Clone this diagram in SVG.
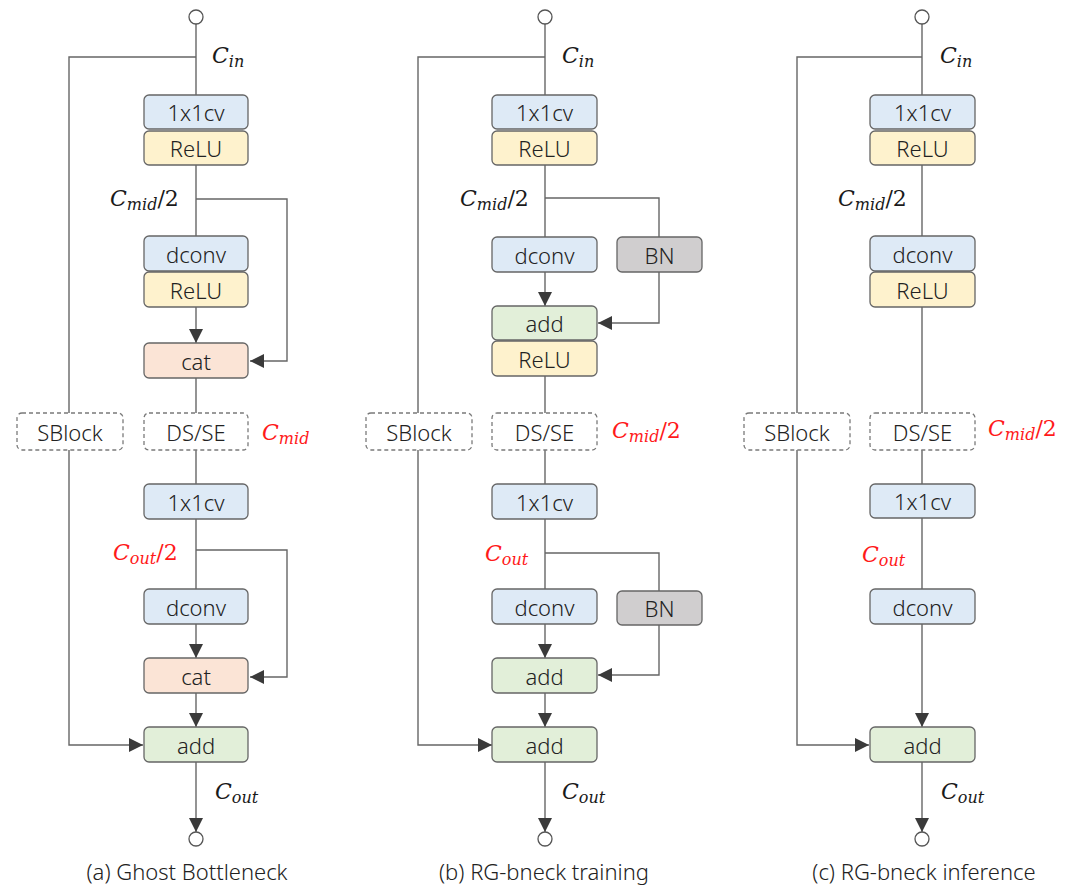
<svg xmlns="http://www.w3.org/2000/svg" width="1080" height="888" viewBox="0 0 1080 888">
<style>
.bx{stroke:#666;stroke-width:1.3}
.blue{fill:#deeaf6}
.yel{fill:#fef2cd}
.peach{fill:#fbe4d6}
.green{fill:#e2efd9}
.gray{fill:#d0cecf}
.dash{fill:#fff;stroke:#7a7a7a;stroke-width:1.3;stroke-dasharray:4 3}
.t{font-family:"Noto Sans","Open Sans",sans-serif;font-weight:300;font-size:22px;fill:#222;text-anchor:middle;dominant-baseline:central}
.cap{font-family:"Noto Sans","Open Sans",sans-serif;font-weight:300;font-size:22px;fill:#222;text-anchor:middle}
.m{font-family:"DejaVu Serif","Liberation Serif",serif;font-style:italic;font-size:22px;fill:#1a1a1a}
.m .s{font-size:16px}
.r{fill:#ff1a1a}
.ln{fill:none;stroke:#666;stroke-width:1.4}
.ar{fill:none;stroke:#666;stroke-width:1.4;marker-end:url(#ah)}
.io{fill:#fff;stroke:#555;stroke-width:1.3}
</style>
<defs>
<marker id="ah" markerUnits="userSpaceOnUse" markerWidth="15" markerHeight="15" refX="14" refY="7" orient="auto">
<path d="M0,0 L14,7 L0,14 z" fill="#3a3a3a"/>
</marker>
</defs>

<g id="connectors">
<!-- column a -->
<path class="ln" d="M196,24 V95"/>
<path class="ln" d="M196,57 H69 V413"/>
<path class="ln" d="M196,165 V236"/>
<path class="ar" d="M196,199 H287 V361 H250"/>
<path class="ar" d="M196,307 V343"/>
<path class="ln" d="M196,378 V413"/>
<path class="ln" d="M196,450 V484"/>
<path class="ln" d="M196,519 V589"/>
<path class="ar" d="M196,550 H287 V677 H250"/>
<path class="ar" d="M196,624 V658"/>
<path class="ar" d="M196,693 V727"/>
<path class="ar" d="M69,450 V745 H143"/>
<path class="ar" d="M196,762 V832"/>
<!-- column b -->
<path class="ln" d="M545,24 V95"/>
<path class="ln" d="M545,57 H418 V413"/>
<path class="ln" d="M545,165 V237"/>
<path class="ln" d="M545,198 H659 V237"/>
<path class="ar" d="M659,272 V323 H598"/>
<path class="ar" d="M545,272 V306"/>
<path class="ln" d="M545,376 V413"/>
<path class="ln" d="M545,450 V484"/>
<path class="ln" d="M545,519 V589"/>
<path class="ln" d="M545,553 H659 V591"/>
<path class="ar" d="M659,625 V675 H598"/>
<path class="ar" d="M545,624 V658"/>
<path class="ar" d="M545,693 V727"/>
<path class="ar" d="M418,450 V745 H492"/>
<path class="ar" d="M545,762 V832"/>
<!-- column c -->
<path class="ln" d="M922,24 V95"/>
<path class="ln" d="M922,57 H797 V413"/>
<path class="ln" d="M922,165 V236"/>
<path class="ln" d="M922,307 V413"/>
<path class="ln" d="M922,450 V484"/>
<path class="ln" d="M922,518 V589"/>
<path class="ar" d="M922,624 V727"/>
<path class="ar" d="M797,450 V745 H869"/>
<path class="ar" d="M922,762 V832"/>
</g>

<!-- column a nodes -->
<g id="a_in"><circle class="io" cx="196" cy="17" r="7"/></g>
<g id="a_conv1"><rect class="bx blue" x="144" y="95" width="104" height="34" rx="5"/><text class="t" x="196" y="112">1x1cv</text></g>
<g id="a_relu1"><rect class="bx yel" x="144" y="131" width="104" height="34" rx="5"/><text class="t" x="196" y="148">ReLU</text></g>
<g id="a_dconv1"><rect class="bx blue" x="144" y="236" width="104" height="35" rx="5"/><text class="t" x="196" y="253.5">dconv</text></g>
<g id="a_relu2"><rect class="bx yel" x="144" y="272" width="104" height="35" rx="5"/><text class="t" x="196" y="289.5">ReLU</text></g>
<g id="a_cat1"><rect class="bx peach" x="144" y="343" width="104" height="35" rx="5"/><text class="t" x="196" y="360.5">cat</text></g>
<g id="a_sblock"><rect class="dash" x="17" y="413" width="106" height="37" rx="5"/><text class="t" x="70" y="431.5">SBlock</text></g>
<g id="a_dsse"><rect class="dash" x="144" y="413" width="104" height="37" rx="5"/><text class="t" x="196" y="431.5">DS/SE</text></g>
<g id="a_conv2"><rect class="bx blue" x="144" y="484" width="104" height="35" rx="5"/><text class="t" x="196" y="501.5">1x1cv</text></g>
<g id="a_dconv2"><rect class="bx blue" x="144" y="589" width="104" height="35" rx="5"/><text class="t" x="196" y="606.5">dconv</text></g>
<g id="a_cat2"><rect class="bx peach" x="144" y="658" width="104" height="35" rx="5"/><text class="t" x="196" y="675.5">cat</text></g>
<g id="a_add"><rect class="bx green" x="144" y="727" width="104" height="35" rx="5"/><text class="t" x="196" y="744.5">add</text></g>
<g id="a_out"><circle class="io" cx="196" cy="839" r="7"/></g>

<!-- column b nodes -->
<g id="b_in"><circle class="io" cx="545" cy="17" r="7"/></g>
<g id="b_conv1"><rect class="bx blue" x="492" y="95" width="105" height="34" rx="5"/><text class="t" x="544.5" y="112">1x1cv</text></g>
<g id="b_relu1"><rect class="bx yel" x="492" y="131" width="105" height="34" rx="5"/><text class="t" x="544.5" y="148">ReLU</text></g>
<g id="b_dconv1"><rect class="bx blue" x="492" y="237" width="105" height="35" rx="5"/><text class="t" x="544.5" y="254.5">dconv</text></g>
<g id="b_bn1"><rect class="bx gray" x="617" y="237" width="85" height="35" rx="5"/><text class="t" x="659.5" y="254.5">BN</text></g>
<g id="b_add1"><rect class="bx green" x="492" y="306" width="105" height="34" rx="5"/><text class="t" x="544.5" y="323">add</text></g>
<g id="b_relu2"><rect class="bx yel" x="492" y="341" width="105" height="35" rx="5"/><text class="t" x="544.5" y="358.5">ReLU</text></g>
<g id="b_sblock"><rect class="dash" x="366" y="413" width="106" height="37" rx="5"/><text class="t" x="419" y="431.5">SBlock</text></g>
<g id="b_dsse"><rect class="dash" x="492" y="413" width="105" height="37" rx="5"/><text class="t" x="544.5" y="431.5">DS/SE</text></g>
<g id="b_conv2"><rect class="bx blue" x="492" y="484" width="105" height="35" rx="5"/><text class="t" x="544.5" y="501.5">1x1cv</text></g>
<g id="b_dconv2"><rect class="bx blue" x="492" y="589" width="105" height="35" rx="5"/><text class="t" x="544.5" y="606.5">dconv</text></g>
<g id="b_bn2"><rect class="bx gray" x="617" y="591" width="85" height="34" rx="5"/><text class="t" x="659.5" y="608">BN</text></g>
<g id="b_add2"><rect class="bx green" x="492" y="658" width="105" height="35" rx="5"/><text class="t" x="544.5" y="675.5">add</text></g>
<g id="b_add3"><rect class="bx green" x="492" y="727" width="105" height="35" rx="5"/><text class="t" x="544.5" y="744.5">add</text></g>
<g id="b_out"><circle class="io" cx="545" cy="839" r="7"/></g>

<!-- column c nodes -->
<g id="c_in"><circle class="io" cx="922" cy="17" r="7"/></g>
<g id="c_conv1"><rect class="bx blue" x="870" y="95" width="105" height="34" rx="5"/><text class="t" x="922.5" y="112">1x1cv</text></g>
<g id="c_relu1"><rect class="bx yel" x="870" y="131" width="105" height="34" rx="5"/><text class="t" x="922.5" y="148">ReLU</text></g>
<g id="c_dconv1"><rect class="bx blue" x="870" y="236" width="105" height="35" rx="5"/><text class="t" x="922.5" y="253.5">dconv</text></g>
<g id="c_relu2"><rect class="bx yel" x="870" y="272" width="105" height="35" rx="5"/><text class="t" x="922.5" y="289.5">ReLU</text></g>
<g id="c_sblock"><rect class="dash" x="744" y="413" width="106" height="37" rx="5"/><text class="t" x="797" y="431.5">SBlock</text></g>
<g id="c_dsse"><rect class="dash" x="870" y="413" width="105" height="37" rx="5"/><text class="t" x="922.5" y="431.5">DS/SE</text></g>
<g id="c_conv2"><rect class="bx blue" x="870" y="484" width="105" height="34" rx="5"/><text class="t" x="922.5" y="501">1x1cv</text></g>
<g id="c_dconv2"><rect class="bx blue" x="870" y="589" width="105" height="35" rx="5"/><text class="t" x="922.5" y="606.5">dconv</text></g>
<g id="c_add"><rect class="bx green" x="870" y="727" width="105" height="35" rx="5"/><text class="t" x="922.5" y="744.5">add</text></g>
<g id="c_out"><circle class="io" cx="922" cy="839" r="7"/></g>

<!-- labels -->
<g id="labels">
<text class="m" x="212" y="63">C<tspan class="s" dy="4">in</tspan></text>
<text class="m" x="110" y="206">C<tspan class="s" dy="4">mid</tspan><tspan dy="-4" font-style="normal">/2</tspan></text>
<text class="m r" x="262" y="440">C<tspan class="s" dy="4">mid</tspan></text>
<text class="m r" x="113" y="560">C<tspan class="s" dy="4">out</tspan><tspan dy="-4" font-style="normal">/2</tspan></text>
<text class="m" x="215" y="799">C<tspan class="s" dy="4">out</tspan></text>

<text class="m" x="562" y="63">C<tspan class="s" dy="4">in</tspan></text>
<text class="m" x="460" y="206">C<tspan class="s" dy="4">mid</tspan><tspan dy="-4" font-style="normal">/2</tspan></text>
<text class="m r" x="612" y="438">C<tspan class="s" dy="4">mid</tspan><tspan dy="-4" font-style="normal">/2</tspan></text>
<text class="m r" x="485" y="561">C<tspan class="s" dy="4">out</tspan></text>
<text class="m" x="562" y="799">C<tspan class="s" dy="4">out</tspan></text>

<text class="m" x="940" y="63">C<tspan class="s" dy="4">in</tspan></text>
<text class="m" x="838" y="206">C<tspan class="s" dy="4">mid</tspan><tspan dy="-4" font-style="normal">/2</tspan></text>
<text class="m r" x="988" y="436">C<tspan class="s" dy="4">mid</tspan><tspan dy="-4" font-style="normal">/2</tspan></text>
<text class="m r" x="862" y="562">C<tspan class="s" dy="4">out</tspan></text>
<text class="m" x="941" y="799">C<tspan class="s" dy="4">out</tspan></text>

<text class="cap" x="187" y="880">(a) Ghost Bottleneck</text>
<text class="cap" x="544" y="880">(b) RG-bneck training</text>
<text class="cap" x="924" y="880">(c) RG-bneck inference</text>
</g>
</svg>
